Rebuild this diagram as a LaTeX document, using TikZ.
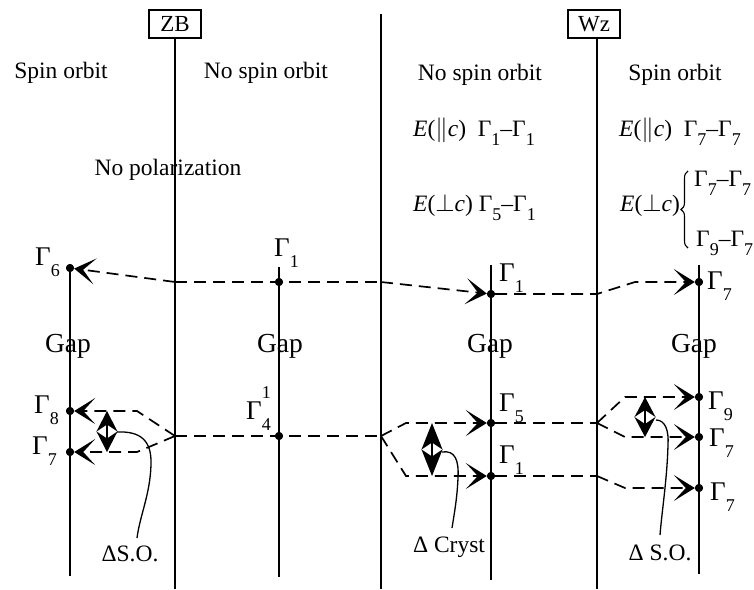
\documentclass[tikz,border=0pt]{standalone}
\usepackage{fontspec}
\setmainfont{Liberation Serif}
\usetikzlibrary{arrows.meta,decorations.pathreplacing}
\newcommand{\sbs}[1]{\raisebox{-0.42em}{\fontsize{18}{18}\selectfont #1}}
\newcommand{\Gm}[1]{Γ\sbs{#1}}
\begin{document}
\begin{tikzpicture}[x=1pt,y=-1pt,
  txt/.style={inner sep=0pt, anchor=base, font=\fontsize{23.5}{27}\selectfont},
  etxt/.style={inner sep=0pt, anchor=base west, font=\fontsize{23.5}{27}\selectfont},
  glab/.style={inner sep=0pt, anchor=base west, font=\fontsize{27}{30}\selectfont},
  gaptxt/.style={inner sep=0pt, anchor=base, font=\fontsize{27.5}{30}\selectfont},
  boxn/.style={draw, line width=1.1pt, minimum width=52pt, minimum height=28pt, inner sep=0pt, font=\fontsize{23}{27}\selectfont},
  lvl/.style={line width=1.6pt},
  dot/.style={circle, fill, inner sep=0pt, minimum size=8pt},
  dl/.style={line width=1.7pt, dash pattern=on 12pt off 7pt},
  arr/.style={dl, -{Stealth[length=21pt,width=26pt,inset=12pt]}},
  dbl/.style={line width=1.4pt, {Stealth[length=#1,width=21pt,inset=7pt]}-{Stealth[length=#1,width=21pt,inset=7pt]}},
  lead/.style={line width=1.3pt}
]
\useasboundingbox (0,0) rectangle (754,589);

% boxes
\node[boxn] (zb) at (175,24) {ZB};
\node[boxn] (wz) at (594,24) {Wz};

% dots
\node[dot] (g6) at (70,268) {};
\node[dot] (g1a) at (279,282) {};
\node[dot] (g1b) at (491,294) {};
\node[dot] (g7a) at (699,282) {};
\node[dot] (g8) at (70,411) {};
\node[dot] (g7b) at (70,452) {};
\node[dot] (g4) at (279,436) {};
\node[dot] (g5) at (491,423) {};
\node[dot] (g1c) at (491,476) {};
\node[dot] (g9) at (699,397) {};
\node[dot] (g7c) at (699,437) {};
\node[dot] (g7d) at (699,488) {};

% vertical line ends
\coordinate (l1b) at (70,576);
\coordinate (l2b) at (175,589);
\coordinate (l3t) at (279,267);
\coordinate (l3b) at (279,577);
\coordinate (l4t) at (381,14);
\coordinate (l4b) at (381,589);
\coordinate (l5t) at (491,265);
\coordinate (l5b) at (491,580);
\coordinate (l6b) at (597,589);
\coordinate (l7t) at (699,265);
\coordinate (l7b) at (699,574);
\coordinate (l6t) at (597,38);

\draw[lvl] (g6.center) -- (l1b);
\draw[lvl] (175,38) -- (l2b);
\draw[lvl] (l3t) -- (l3b);
\draw[lvl] (l4t) -- (l4b);
\draw[lvl] (l5t) -- (l5b);
\draw[lvl] (l6t) -- (l6b);
\draw[lvl] (l7t) -- (l7b);

% junctions
\coordinate (ja) at (175,282);
\coordinate (jb) at (381,282);
\coordinate (jc) at (597,294);
\coordinate (jd) at (635,282);
\coordinate (je) at (175,436);
\coordinate (jf) at (137,411);
\coordinate (jg) at (137,452);
\coordinate (jh) at (381,436);
\coordinate (ji) at (406,423);
\coordinate (jj) at (406,476);
\coordinate (jk) at (597,423);
\coordinate (jl) at (625,397);
\coordinate (jm) at (625,437);
\coordinate (jn) at (597,476);
\coordinate (jo) at (625,488);

% dashed transitions
\draw[arr] (ja) -- (g6);
\draw[dl] (ja) -- (jb);
\draw[arr] (jb) -- (g1b);
\draw[arr] (g1b) -- (jc) -- (jd) -- (g7a);
\draw[arr] (je) -- (jf) -- (g8);
\draw[arr] (je) -- (jg) -- (g7b);
\draw[dl] (je) -- (jh);
\draw[arr] (jh) -- (ji) -- (g5);
\draw[arr] (jh) -- (jj) -- (g1c);
\draw[dl] (g5) -- (jk);
\draw[arr] (jk) -- (jl) -- (g9);
\draw[arr] (jk) -- (jm) -- (g7c);
\draw[dl] (g1c) -- (jn);
\draw[arr] (jn) -- (jo) -- (g7d);

% redraw dots on top
\foreach \d in {g6,g1a,g1b,g7a,g8,g7b,g4,g5,g1c,g9,g7c,g7d} \fill (\d) circle (4pt);

% splitting arrows
\coordinate (s1t) at (107,411);
\coordinate (s1b) at (107,452);
\coordinate (s2t) at (432,423);
\coordinate (s2b) at (432,476);
\coordinate (s3t) at (645,397);
\coordinate (s3b) at (645,437);
\draw[dbl=20.5pt] (s1t) -- (s1b);
\draw[dbl=26.5pt] (s2t) -- (s2b);
\draw[dbl=20pt] (s3t) -- (s3b);

% leader curves
\node[txt] (so1) at (130,561) {ΔS.O.};
\node[txt] (cr) at (449,552) {Δ Cryst};
\node[txt] (so2) at (660,560) {Δ S.O.};
\coordinate (c1s) at (117,432);
\coordinate (c1e) at (137,538);
\coordinate (c2s) at (442,452);
\coordinate (c2e) at (452,528);
\coordinate (c3s) at (656,420);
\coordinate (c3e) at (660,535);
\draw[lead] (c1s) .. controls (140,431) and (152,440) .. (151,465) .. controls (150,495) and (140,515) .. (c1e);
\draw[lead] (c2s) .. controls (455,450) and (459,460) .. (458,478) .. controls (457,500) and (454,515) .. (c2e);
\draw[lead] (c3s) .. controls (665,420) and (669,430) .. (668,445) .. controls (667,480) and (662,510) .. (c3e);

% headings
\node[txt] (h1) at (61,78) {Spin orbit};
\node[txt] (h2) at (266,78) {No spin orbit};
\node[txt] (h3) at (168,175) {No polarization};
\node[txt] (h4) at (480,80) {No spin orbit};
\node[txt] (h5) at (675,80) {Spin orbit};

\node[etxt] (e1) at (413,136) {\textit{E}($\|$\textit{c})\ \ \Gm{1}–\Gm{1}};
\node[etxt] (e2) at (413,211) {\textit{E}($\perp$\textit{c}) \Gm{5}–\Gm{1}};
\node[etxt] (e3) at (619,136) {\textit{E}($\|$\textit{c})\ \ \Gm{7}–\Gm{7}};
\node[etxt] (e4) at (620,211) {\textit{E}($\perp$\textit{c})};
\node[etxt] (e5) at (694,186) {\Gm{7}–\Gm{7}};
\node[etxt] (e6) at (696,246) {\Gm{9}–\Gm{7}};
\draw[line width=1.1pt, decorate, decoration={brace, amplitude=7pt}] (688,248) -- (688,171);

% Gap labels
\node[gaptxt] (gp1) at (68,352) {Gap};
\node[gaptxt] (gp2) at (280,352) {Gap};
\node[gaptxt] (gp3) at (490,352) {Gap};
\node[gaptxt] (gp4) at (694,352) {Gap};

% Gamma labels
\node[glab] (lg6) at (35,265) {\Gm{6}};
\node[glab] (lg1a) at (274,256) {\Gm{1}};
\node[glab] (lg1b) at (499,281) {\Gm{1}};
\node[glab] (lg7a) at (707,289) {\Gm{7}};
\node[glab] (lg8) at (34,413) {\Gm{8}};
\node[glab] (lg7b) at (32,454) {\Gm{7}};
\node[glab] (lg4) at (246,419) {Γ\makebox[0pt][l]{\raisebox{21pt}{\fontsize{18}{18}\selectfont 1}}\sbs{4}};
\node[glab] (lg5) at (499,411) {\Gm{5}};
\node[glab] (lg1c) at (499,463) {\Gm{1}};
\node[glab] (lg9) at (708,409) {\Gm{9}};
\node[glab] (lg7c) at (709,446) {\Gm{7}};
\node[glab] (lg7d) at (710,500) {\Gm{7}};
\end{tikzpicture}
\end{document}
